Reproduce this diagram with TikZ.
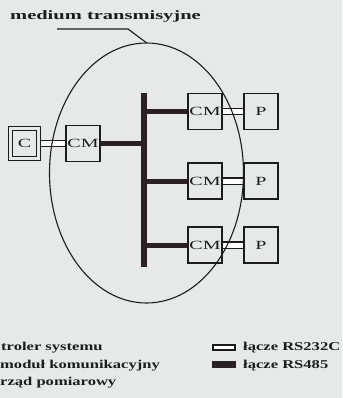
\documentclass[tikz,border=0pt]{standalone}
\usepackage{fontspec}
\usepackage{graphicx}
\setmainfont{Liberation Serif}
\usetikzlibrary{shapes.geometric}
\definecolor{bgc}{HTML}{E7E9E9}
\definecolor{ink}{HTML}{1C1C1C}
\definecolor{busc}{HTML}{2B2024}
\newcommand\titletxt[1]{\scalebox{1.6}[1]{#1}}
\newcommand\legtxt[1]{\scalebox{1.38}[1]{#1}}
\newcommand\boxtxt[1]{\scalebox{1.6}[1]{#1}}
\tikzset{
  modbox/.style={draw=ink, line width=1.3pt, minimum width=34pt, minimum height=36pt,
    inner sep=0pt, font=\fontsize{12.5pt}{12.5pt}\selectfont, text=ink},
  ctrlbox/.style={draw=ink, double=bgc, double distance=3pt, line width=1.2pt,
    minimum width=28pt, minimum height=30pt, inner sep=0pt,
    font=\fontsize{12.5pt}{12.5pt}\selectfont, text=ink},
  bus/.style={draw=busc, line width=5pt},
  rslink/.style={draw=ink, line width=1.3pt, double=white, double distance=5pt},
  lbl/.style={font=\bfseries\fontsize{12pt}{12pt}\selectfont, text=ink, inner sep=0pt, anchor=base west},
}
\begin{document}
\begin{tikzpicture}[x=1pt,y=-1pt]
\fill[bgc] (0,0) rectangle (342,398);
\useasboundingbox (0,0) rectangle (342,398);

% title and leader
\node[lbl, font=\bfseries\fontsize{12.8pt}{12.8pt}\selectfont] (title) at (10,20) {\titletxt{medium transmisyjne}};
\node[ellipse, draw=none, minimum width=194pt, minimum height=260pt, inner sep=0pt] (med) at (146.5,173) {};
\coordinate (ldrA) at (57,29);
\coordinate (ldrB) at (128,29);

% boxes
\node[ctrlbox] (c) at (24.5,143.5) {\boxtxt{C}};
\node[modbox] (cml) at (83,143.5) {\boxtxt{CM}};
\node[modbox] (cm1) at (205,111.5) {\boxtxt{CM}};
\node[modbox] (p1) at (261,111.5) {\boxtxt{P}};
\node[modbox] (cm2) at (205,181) {\boxtxt{CM}};
\node[modbox] (p2) at (261,181) {\boxtxt{P}};
\node[modbox] (cm3) at (205,245) {\boxtxt{CM}};
\node[modbox] (p3) at (261,245) {\boxtxt{P}};

% bus
\coordinate (bustop) at (143.5,93);
\coordinate (busbot) at (143.5,267);
\draw[bus, line width=6pt] (bustop) -- (busbot);
\draw[bus] (cml.east) -- (cml.east -| bustop);
\draw[bus] (cm1.west) -- (cm1.west -| bustop);
\draw[bus] (cm2.west) -- (cm2.west -| bustop);
\draw[bus] (cm3.west) -- (cm3.west -| bustop);

% RS232C links
\draw[rslink] ([xshift=1.5pt]c.east) -- ([xshift=-0.6pt]cml.west);
\draw[rslink] ([xshift=0.6pt]cm1.east) -- ([xshift=-0.6pt]p1.west);
\draw[rslink] ([xshift=0.6pt]cm2.east) -- ([xshift=-0.6pt]p2.west);
\draw[rslink] ([xshift=0.6pt]cm3.east) -- ([xshift=-0.6pt]p3.west);

% medium ellipse and leader
\draw[ink, line width=1.1pt] (146.5,173) ellipse [x radius=97pt, y radius=130pt];
\draw[ink, line width=1.1pt] (ldrA) -- (ldrB) -- (med.north);

% legend
\node[lbl] (l1) at (1,350) {\legtxt{troler systemu}};
\node[lbl] (l2) at (0,368) {\legtxt{moduł komunikacyjny}};
\node[lbl] (l3) at (0,385.5) {\legtxt{rząd pomiarowy}};
\node[draw=ink, line width=1.2pt, fill=white, minimum width=22pt, minimum height=5pt, inner sep=0pt] (sym1) at (224,347.5) {};
\node[fill=busc, minimum width=24pt, minimum height=7pt, inner sep=0pt] (sym2) at (224,364.5) {};
\node[lbl] (r1) at (243,350) {\legtxt{łącze RS232C}};
\node[lbl] (r2) at (243,368) {\legtxt{łącze RS485}};
\end{tikzpicture}
\end{document}
